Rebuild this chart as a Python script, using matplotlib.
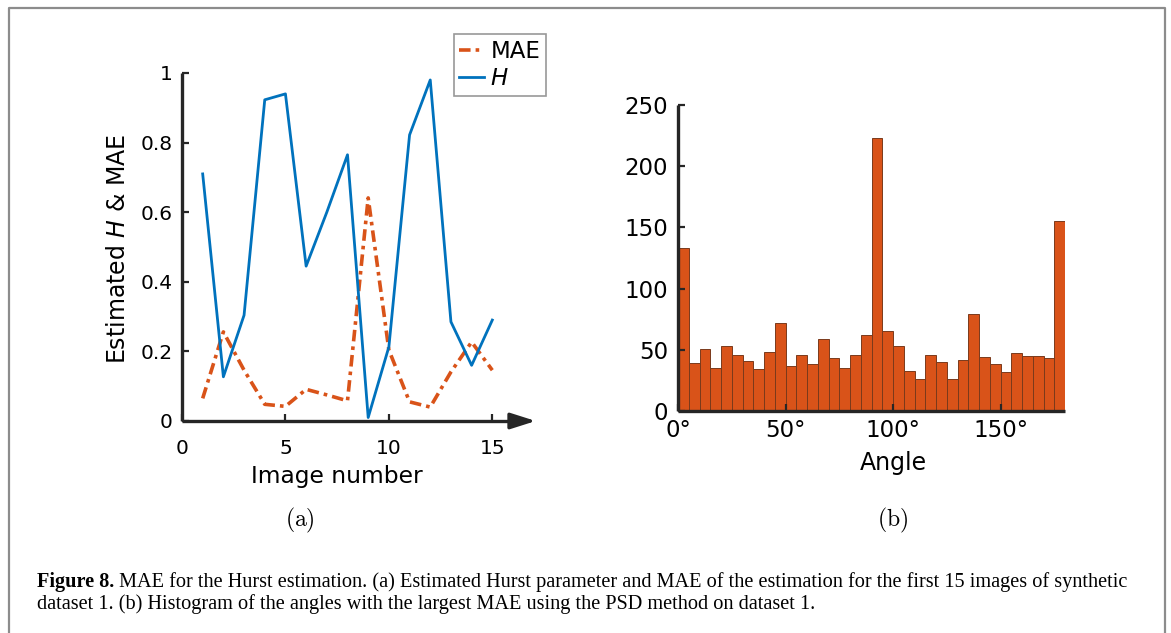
import numpy as np
import matplotlib
matplotlib.use("Agg")
import matplotlib.pyplot as plt
from matplotlib.lines import Line2D

# ---------------- data ----------------
image_number = [1, 2, 3, 4, 5, 6, 7, 8, 9, 10, 11, 12, 13, 14, 15]
H_values = [0.71, 0.127, 0.304, 0.923, 0.94, 0.445, 0.60, 0.765, 0.01,
            0.213, 0.822, 0.98, 0.285, 0.16, 0.29]
MAE_values = [0.065, 0.256, 0.146, 0.048, 0.042, 0.091, 0.075, 0.058, 0.641,
              0.204, 0.055, 0.04, 0.141, 0.227, 0.146]

angle_bin_edges = list(range(0, 181, 5))
angle_counts = [133, 39, 51, 35, 53, 46, 41, 34, 48, 72,
                37, 46, 38, 59, 43, 35, 46, 62, 223, 65,
                53, 33, 26, 46, 40, 26, 42, 79, 44, 38,
                32, 47, 45, 45, 43, 155]

left_yticks = [0, 0.2, 0.4, 0.6, 0.8, 1]
left_yticklabels = ["0", "0.2", "0.4", "0.6", "0.8", "1"]
left_xticks = [0, 5, 10, 15]
right_xticks = [0, 50, 100, 150]
right_xticklabels = ["0°", "50°", "100°", "150°"]
right_yticks = [0, 50, 100, 150, 200, 250]

caption_bold = "Figure 8."
caption_line1 = (" MAE for the Hurst estimation. (a) Estimated Hurst parameter and MAE of the "
                 "estimation for the first 15 images of synthetic")
caption_line2 = ("dataset 1. (b) Histogram of the angles with the largest MAE using the PSD "
                 "method on dataset 1.")

# ---------------- style ----------------
BLUE = "#0072BD"
ORANGE = "#D95319"
AXC = "#262626"
plt.rcParams["font.family"] = ["DejaVu Sans"]
plt.rcParams["mathtext.fontset"] = "dejavusans"

W, Hh = 1171, 633
fig = plt.figure(figsize=(W / 100, Hh / 100), dpi=100)

def fx(px):
    return px / W

def fy(py):
    return 1 - py / Hh

# figure frame (left, top, right)
fig.add_artist(Line2D([fx(9), fx(9), fx(1165), fx(1165)],
                      [0, fy(8), fy(8), 0], color="#8c8c8c", lw=1.6,
                      transform=fig.transFigure))

# ---------------- left panel ----------------
axL = fig.add_axes([fx(182), fy(421), fx(513 - 182), fy(73) - fy(421)])
axL.plot(image_number, MAE_values, color=ORANGE, lw=2.6, ls=(0, (3.2, 1.4, 1.0, 1.4)),
         label="MAE")
axL.plot(image_number, H_values, color=BLUE, lw=2.0, label="$H$")
axL.set_xlim(0, 16)
axL.set_ylim(0, 1)
axL.set_xticks(left_xticks)
axL.set_yticks(left_yticks)
axL.set_yticklabels(left_yticklabels)
for s in ["top", "right"]:
    axL.spines[s].set_visible(False)
for s in ["left", "bottom"]:
    axL.spines[s].set_color(AXC)
    axL.spines[s].set_linewidth(2.4)
    axL.spines[s].set_capstyle("butt")
axL.tick_params(axis="both", direction="in", length=5, width=1.6, color=AXC,
                labelsize=14.5, labelcolor="black")
axL.tick_params(axis="x", pad=13)
axL.tick_params(axis="y", pad=7)
axL.annotate("", xy=(17.1, 0), xytext=(15.9, 0), xycoords="data",
             arrowprops=dict(arrowstyle="-|>,head_length=0.85,head_width=0.27",
                             color=AXC, lw=2.4, shrinkA=0, shrinkB=0,
                             mutation_scale=18),
             annotation_clip=False)
axL.set_ylabel("Estimated $H$ & MAE", fontsize=17)
axL.yaxis.set_label_coords(fx(118), fy(249), transform=fig.transFigure)
axL.set_xlabel("Image number", fontsize=16.8)
axL.xaxis.set_label_coords(fx(337), fy(476), transform=fig.transFigure)
axL.xaxis.label.set_va("center")
axL.yaxis.label.set_va("center")

leg = fig.legend(handles=axL.get_lines(), labels=["MAE", "$H$"],
                 loc="upper right", bbox_to_anchor=(fx(546), fy(34)),
                 fontsize=16.5, frameon=True, fancybox=False, handlelength=1.05,
                 handletextpad=0.3, borderpad=0.25, labelspacing=0.2,
                 borderaxespad=0)
leg.get_frame().set_edgecolor("#7f7f7f")
leg.get_frame().set_linewidth(1.2)

# ---------------- right panel ----------------
axR = fig.add_axes([fx(678), fy(411), fx(1065 - 678), fy(105) - fy(411)])
axR.bar(angle_bin_edges[:-1], angle_counts, width=5, align="edge",
        color=ORANGE, edgecolor="#7a3a1c", linewidth=0.7)
axR.set_xlim(0, 180)
axR.set_ylim(0, 250)
axR.set_xticks(right_xticks)
axR.set_xticklabels(right_xticklabels)
axR.set_yticks(right_yticks)
for s in ["top", "right"]:
    axR.spines[s].set_visible(False)
for s in ["left", "bottom"]:
    axR.spines[s].set_color(AXC)
    axR.spines[s].set_linewidth(2.4)
    axR.spines[s].set_capstyle("butt")
    axR.spines[s].set_zorder(3)
axR.tick_params(axis="both", direction="in", length=5, width=1.6, color=AXC,
                labelsize=16.5, labelcolor="black")
axR.tick_params(axis="x", pad=6)
axR.tick_params(axis="y", pad=7)
axR.set_xlabel("Angle", fontsize=17)
axR.xaxis.set_label_coords(fx(893), fy(463), transform=fig.transFigure)
axR.xaxis.label.set_va("center")

# ---------------- sub-captions ----------------
fig.text(fx(300), fy(520), r"$\mathrm{(a)}$", math_fontfamily="cm", fontsize=17,
         ha="center", va="center")
fig.text(fx(893), fy(520), r"$\mathrm{(b)}$", math_fontfamily="cm", fontsize=17,
         ha="center", va="center")

# ---------------- caption ----------------
cap_fs = 14.6
t_bold = fig.text(fx(37), fy(587), caption_bold, family="Liberation Serif",
                  weight="bold", fontsize=cap_fs, ha="left", va="baseline")
fig.canvas.draw()
bb = t_bold.get_window_extent(renderer=fig.canvas.get_renderer())
fig.text(bb.x1 / W, fy(587), caption_line1, family="Liberation Serif",
         fontsize=cap_fs, ha="left", va="baseline")
fig.text(fx(37), fy(609), caption_line2, family="Liberation Serif",
         fontsize=cap_fs, ha="left", va="baseline")

fig.savefig("out.png", dpi=100)
